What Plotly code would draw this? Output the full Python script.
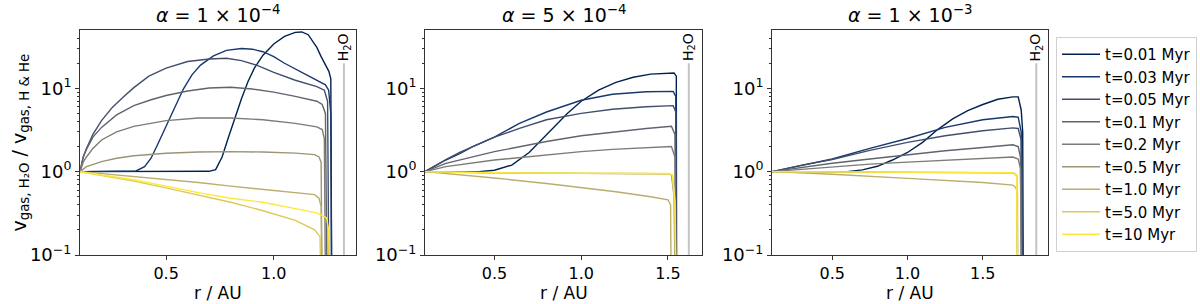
import math
import plotly.graph_objects as go

# ---------------- data ----------------
TIME_LABELS = ["t=0.01 Myr", "t=0.03 Myr", "t=0.05 Myr", "t=0.1 Myr", "t=0.2 Myr",
               "t=0.5 Myr", "t=1.0 Myr", "t=5.0 Myr", "t=10 Myr"]
LINE_COLORS = ["#00224e", "#17376f", "#424e6c", "#60646f", "#7d7b75",
               "#9b9475", "#bbad6c", "#ddc958", "#fee838"]
PANEL_TITLES = ["<i>α</i> = 1 × 10<sup>−4</sup>",
                "<i>α</i> = 5 × 10<sup>−4</sup>",
                "<i>α</i> = 1 × 10<sup>−3</sup>"]
H2O_ICELINE_AU = [1.326, 1.62, 1.855]
ICELINE_MARK_TOP = 20.0
X_TICKS = [[0.5, 1.0], [0.5, 1.0, 1.5], [0.5, 1.0, 1.5]]

# alpha = 1e-4 : radius (AU) and velocity ratio for each time
A1E4_R = [
    [0.1, 0.3, 0.5, 0.65, 0.70, 0.73, 0.76, 0.79, 0.82, 0.85, 0.88, 0.91, 0.95, 1.0, 1.05, 1.1, 1.13, 1.16, 1.2, 1.22, 1.256, 1.265, 1.27],
    [0.1, 0.3, 0.36, 0.40, 0.43, 0.46, 0.49, 0.52, 0.55, 0.58, 0.62, 0.66, 0.72, 0.78, 0.85, 0.9, 0.95, 1.0, 1.05, 1.1, 1.15, 1.2, 1.24, 1.255, 1.265, 1.27],
    [0.1, 0.115, 0.13, 0.16, 0.2, 0.25, 0.3, 0.35, 0.42, 0.5, 0.6, 0.7, 0.78, 0.85, 0.92, 1.0, 1.1, 1.2, 1.235, 1.25, 1.258],
    [0.1, 0.115, 0.13, 0.16, 0.2, 0.27, 0.35, 0.43, 0.5, 0.6, 0.7, 0.8, 0.9, 1.0, 1.1, 1.2, 1.225, 1.24, 1.25],
    [0.1, 0.115, 0.13, 0.16, 0.2, 0.27, 0.35, 0.5, 0.65, 0.8, 0.95, 1.1, 1.2, 1.225, 1.235, 1.242],
    [0.1, 0.13, 0.2, 0.27, 0.35, 0.5, 0.65, 0.8, 0.95, 1.1, 1.19, 1.21, 1.22, 1.226],
    [0.1, 0.2, 0.35, 0.5, 0.65, 0.8, 0.95, 1.1, 1.19, 1.21, 1.22, 1.226],
    [0.1, 0.2, 0.35, 0.5, 0.65, 0.8, 0.95, 1.1, 1.19, 1.215, 1.222],
    [0.1, 0.2, 0.35, 0.5, 0.65, 0.8, 0.95, 1.1, 1.2, 1.245, 1.255, 1.26],
]
A1E4_V = [
    [1.0, 1.0, 1.0, 1.0, 1.01, 1.06, 1.5, 2.6, 4.5, 7.5, 12, 17.5, 25, 34, 42, 47, 47.5, 44, 31, 24, 16, 13, 0.01],
    [1.0, 1.0, 1.02, 1.15, 1.45, 2.1, 3.1, 4.6, 6.8, 9.8, 14.5, 19, 24.5, 28.5, 30, 29.5, 27.5, 24, 20, 17, 14.5, 12.5, 11, 9.5, 5, 0.01],
    [1.0, 1.5, 1.9, 2.8, 4.1, 5.9, 7.8, 10.2, 14, 17.5, 21, 22.5, 23, 21.5, 19, 15.5, 12.5, 10.5, 9.5, 7.0, 0.01],
    [1.0, 1.5, 1.85, 2.6, 3.4, 4.8, 6.2, 7.3, 8.2, 9.3, 10.1, 10.3, 9.8, 9.0, 8.0, 7.0, 6.4, 5.0, 0.01],
    [1.0, 1.3, 1.5, 1.9, 2.4, 3.0, 3.5, 4.1, 4.4, 4.4, 4.2, 3.8, 3.45, 3.2, 2.5, 0.01],
    [1.0, 1.15, 1.32, 1.45, 1.55, 1.66, 1.72, 1.74, 1.72, 1.67, 1.6, 1.5, 1.3, 0.01],
    [1.0, 0.95, 0.88, 0.81, 0.74, 0.67, 0.61, 0.56, 0.53, 0.48, 0.38, 0.01],
    [1.0, 0.9, 0.77, 0.64, 0.53, 0.43, 0.34, 0.26, 0.2, 0.165, 0.01],
    [1.0, 0.92, 0.8, 0.67, 0.56, 0.48, 0.43, 0.36, 0.32, 0.28, 0.2, 0.01],
]

# alpha = 5e-4
A5E4_R = [
    [0.1, 0.41, 0.5, 0.6, 0.7, 0.78, 0.85, 0.92, 1.0, 1.1, 1.2, 1.3, 1.4, 1.5, 1.535, 1.548, 1.55],
    [0.1, 0.15, 0.22, 0.3, 0.375, 0.5, 0.644, 0.8, 1.0, 1.18, 1.375, 1.53, 1.545, 1.55],
    [0.1, 0.15, 0.22, 0.3, 0.375, 0.5, 0.644, 0.8, 1.0, 1.18, 1.375, 1.53, 1.545, 1.55],
    [0.1, 0.22, 0.5, 0.8, 1.0, 1.18, 1.375, 1.52, 1.54, 1.55],
    [0.1, 0.22, 0.5, 0.8, 1.0, 1.18, 1.375, 1.52, 1.54, 1.55],
    [0.1, 0.5, 1.0, 1.5, 1.52, 1.535, 1.545],
    [0.1, 0.3, 0.5, 0.8, 1.0, 1.2, 1.4, 1.5, 1.515, 1.52],
    [0.1, 0.5, 1.0, 1.5, 1.525, 1.54, 1.548],
    [0.1, 0.5, 1.0, 1.5, 1.525, 1.54, 1.55],
]
A5E4_V = [
    [1.0, 1.0, 1.04, 1.2, 1.7, 2.5, 3.6, 5.0, 7.0, 9.5, 11.8, 13.6, 14.8, 15.4, 15.3, 14.0, 0.01],
    [1.0, 1.15, 1.38, 1.65, 2.0, 2.6, 3.8, 5.2, 7.2, 8.5, 9.1, 9.2, 8.0, 0.01],
    [1.0, 1.16, 1.4, 1.7, 2.0, 2.6, 3.3, 4.2, 5.0, 5.6, 6.0, 6.2, 5.2, 0.01],
    [1.0, 1.26, 1.74, 2.3, 2.7, 3.0, 3.3, 3.5, 2.8, 0.01],
    [1.0, 1.15, 1.38, 1.6, 1.74, 1.85, 1.95, 2.0, 1.5, 0.01],
    [1.0, 0.97, 0.955, 0.945, 0.92, 0.5, 0.01],
    [1.0, 0.92, 0.84, 0.72, 0.65, 0.575, 0.5, 0.46, 0.4, 0.01],
    [1.0, 0.965, 0.955, 0.945, 0.91, 0.4, 0.01],
    [1.0, 0.97, 0.96, 0.95, 0.92, 0.45, 0.01],
]

# alpha = 1e-3
A1E3_R = [
    [0.1, 0.5, 0.6, 0.7, 0.8, 0.9, 1.0, 1.1, 1.2, 1.3, 1.4, 1.5, 1.6, 1.7, 1.735, 1.755, 1.765, 1.77],
    [0.1, 0.3, 0.5, 0.75, 1.0, 1.25, 1.5, 1.7, 1.735, 1.755, 1.765],
    [0.1, 0.3, 0.5, 0.75, 1.0, 1.25, 1.5, 1.7, 1.735, 1.755, 1.765],
    [0.1, 0.3, 0.5, 0.75, 1.0, 1.25, 1.5, 1.7, 1.735, 1.75, 1.76],
    [0.1, 0.3, 0.5, 0.75, 1.0, 1.25, 1.5, 1.7, 1.735, 1.75, 1.76],
    [0.1, 0.5, 1.0, 1.5, 1.7, 1.725, 1.733],
    [0.1, 0.5, 1.0, 1.5, 1.7, 1.72, 1.73, 1.735],
    [0.1, 0.5, 1.0, 1.5, 1.7, 1.725, 1.733],
    [0.1, 0.5, 1.0, 1.5, 1.7, 1.725, 1.733],
]
A1E3_V = [
    [1.0, 1.0, 1.0, 1.05, 1.16, 1.38, 1.7, 2.25, 3.2, 4.3, 5.4, 6.4, 7.4, 7.9, 7.9, 5.5, 3.0, 0.01],
    [1.0, 1.2, 1.42, 1.9, 2.5, 3.4, 4.2, 4.6, 4.5, 3.0, 0.01],
    [1.0, 1.2, 1.4, 1.8, 2.25, 2.7, 3.1, 3.35, 3.3, 2.4, 0.01],
    [1.0, 1.12, 1.26, 1.42, 1.6, 1.78, 1.95, 2.1, 2.0, 1.5, 0.01],
    [1.0, 1.07, 1.14, 1.23, 1.3, 1.37, 1.44, 1.5, 1.42, 1.1, 0.01],
    [1.0, 0.985, 0.98, 0.975, 0.97, 0.9, 0.01],
    [1.0, 0.93, 0.83, 0.74, 0.69, 0.64, 0.55, 0.01],
    [1.0, 0.985, 0.98, 0.975, 0.97, 0.9, 0.01],
    [1.0, 0.99, 0.985, 0.98, 0.975, 0.9, 0.01],
]

PANEL_R = [A1E4_R, A5E4_R, A1E3_R]
PANEL_V = [A1E4_V, A5E4_V, A1E3_V]

# ---------------- layout constants ----------------
W, H = 1200, 304
X_DOMAINS = [[80 / W, 356 / W], [425 / W, 702 / W], [772 / W, 1048 / W]]
X_RANGES = [[0.1, 1.382], [0.1, 1.696], [0.1, 1.933]]
Y_DOMAIN = [(H - 255) / H, (H - 30) / H]
FONT = "DejaVu Sans"

fig = go.Figure()

for p in range(3):
    xa = "x" if p == 0 else f"x{p + 1}"
    ya = "y" if p == 0 else f"y{p + 1}"
    # ice line marker
    fig.add_trace(go.Scatter(
        x=[H2O_ICELINE_AU[p], H2O_ICELINE_AU[p]], y=[0.1, ICELINE_MARK_TOP],
        mode="lines", line=dict(color="#c4c4c4", width=2),
        showlegend=False, hoverinfo="skip", xaxis=xa, yaxis=ya))
    for i, lab in enumerate(TIME_LABELS):
        fig.add_trace(go.Scatter(
            x=PANEL_R[p][i], y=PANEL_V[p][i], mode="lines",
            line=dict(color=LINE_COLORS[i], width=1.4),
            name=lab, legendgroup=lab, showlegend=(p == 0),
            xaxis=xa, yaxis=ya))

minor_vals = [m * 10 ** e for e in (-1, 0, 1) for m in range(2, 10) if m * 10 ** e < 50]

layout = dict(
    width=W, height=H, margin=dict(l=0, r=0, t=0, b=0, autoexpand=False),
    plot_bgcolor="white", paper_bgcolor="white",
    font=dict(family=FONT, size=16, color="black"),
    legend=dict(x=1056 / W, y=(H - 37) / H, xanchor="left", yanchor="top",
                bordercolor="#d0d0d0", borderwidth=1, bgcolor="white",
                font=dict(family=FONT, size=15), tracegroupgap=0,
                itemwidth=38),
    annotations=[],
)

for p in range(3):
    xk = "xaxis" if p == 0 else f"xaxis{p + 1}"
    yk = "yaxis" if p == 0 else f"yaxis{p + 1}"
    ya = "y" if p == 0 else f"y{p + 1}"
    xa = "x" if p == 0 else f"x{p + 1}"
    layout[xk] = dict(
        domain=X_DOMAINS[p], range=X_RANGES[p], anchor=ya, automargin=False,
        showline=True, linecolor="#333333", linewidth=1, mirror=True,
        ticks="outside", ticklen=4, tickcolor="#333333",
        tickvals=X_TICKS[p], ticktext=[f"{v:.1f}" for v in X_TICKS[p]],
        tickfont=dict(size=16), showgrid=False, zeroline=False)
    layout[yk] = dict(
        domain=Y_DOMAIN, type="log", range=[-1, 1.7], anchor=xa, automargin=False,
        showline=True, linecolor="#333333", linewidth=1, mirror=True,
        ticks="outside", ticklen=4, tickcolor="#333333",
        tickvals=[0.1, 1, 10],
        ticktext=["10<sup>−1</sup>", "10<sup>0</sup>", "10<sup>1</sup>"],
        tickfont=dict(size=18), showgrid=False, zeroline=False,
        minor=dict(ticks="outside", ticklen=2, tickcolor="#333333",
                   tickvals=minor_vals, showgrid=False))
    cx = (X_DOMAINS[p][0] + X_DOMAINS[p][1]) / 2
    layout["annotations"].append(dict(
        text=PANEL_TITLES[p], x=cx, y=(H - 14) / H, xref="paper", yref="paper",
        xanchor="center", yanchor="middle", showarrow=False,
        font=dict(size=19, family=FONT)))
    layout["annotations"].append(dict(
        text="r / AU", x=cx, y=(H - 293) / H, xref="paper", yref="paper",
        xanchor="center", yanchor="middle", showarrow=False,
        font=dict(size=17, family=FONT)))
    layout["annotations"].append(dict(
        text="H<sub>2</sub>O", x=H2O_ICELINE_AU[p], y=math.log10(ICELINE_MARK_TOP),
        xref=xa, yref=ya, xanchor="center", yanchor="bottom", textangle=-90,
        showarrow=False, font=dict(size=14, family=FONT)))

layout["annotations"].append(dict(
    text="v<sub>gas, H₂O</sub> / v<sub>gas, H &amp; He</sub>",
    x=20 / W, y=(Y_DOMAIN[0] + Y_DOMAIN[1]) / 2, xref="paper", yref="paper",
    xanchor="center", yanchor="middle", textangle=-90, showarrow=False,
    font=dict(size=19, family=FONT)))

fig.update_layout(**layout)
fig.write_html("out.html", config={"displayModeBar": False, "staticPlot": True})

# remove the default page margin so the figure sits at the window's top-left corner
with open("out.html", "r", encoding="utf-8") as fh:
    html = fh.read()
html = html.replace("<head>", "<head><style>html,body{margin:0;padding:0;overflow:hidden;}</style>", 1)
with open("out.html", "w", encoding="utf-8") as fh:
    fh.write(html)
